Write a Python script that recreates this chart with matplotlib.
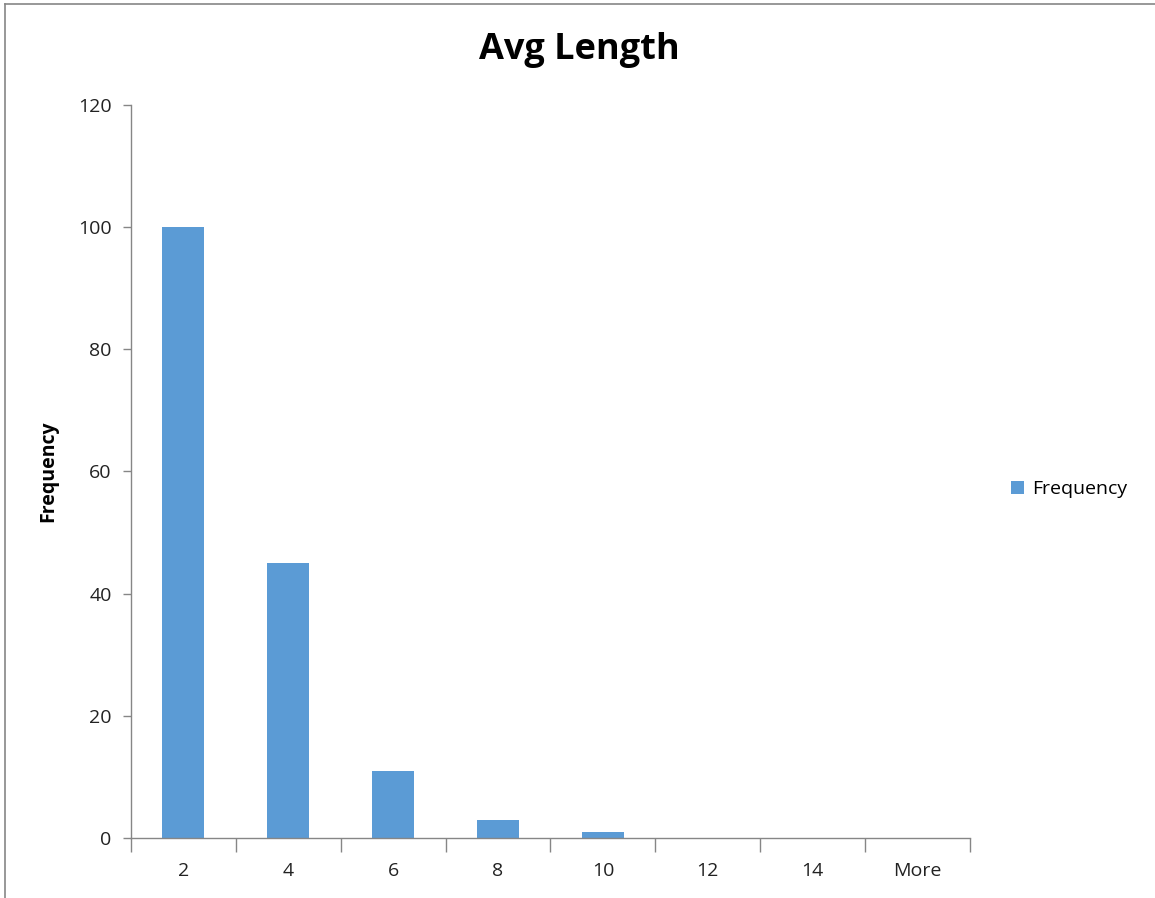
import matplotlib
matplotlib.use("Agg")
import matplotlib.pyplot as plt
import numpy as np
from matplotlib.lines import Line2D

plt.rcParams['font.family'] = ['Open Sans', 'DejaVu Sans']

bins = ['2', '4', '6', '8', '10', '12', '14', 'More']
frequency = [100, 45, 11, 3, 1, 0, 0, 0]

fig = plt.figure(figsize=(11.55, 8.98), dpi=100)
ax = fig.add_axes([0.1134, 0.0668, 0.7264, 0.8163])

x = np.arange(len(bins))
ax.bar(x, frequency, width=0.4, color='#5B9BD5', label='Frequency', zorder=2)

ax.set_xlim(-0.5, len(bins) - 0.5)
ax.set_ylim(0, 120)
ax.set_yticks(np.arange(0, 121, 20))
ax.tick_params(axis='y', labelsize=14, colors='#868686', labelcolor='#222222',
               length=6, width=1, pad=8)

# category labels centred, tick marks on the bin boundaries
ax.set_xticks(x)
ax.set_xticklabels(bins, fontsize=14, color='#222222')
ax.tick_params(axis='x', which='major', length=0, pad=17)
ax.set_xticks(np.arange(-0.5, len(bins)), minor=True)
ax.tick_params(axis='x', which='minor', length=10, width=1, color='#868686')

for side in ['top', 'right']:
    ax.spines[side].set_visible(False)
for side in ['left', 'bottom']:
    ax.spines[side].set_color('#868686')
    ax.spines[side].set_linewidth(1)

ax.set_ylabel('Frequency', fontsize=14, fontweight='bold', labelpad=14)
fig.text(0.502, 0.944, 'Avg Length', ha='center', va='center',
         fontsize=26, fontweight='bold')

ax.legend(loc='center left', bbox_to_anchor=(0.86, 0.455),
          bbox_transform=fig.transFigure, frameon=False, fontsize=14,
          handlelength=0.7, handleheight=0.7, handletextpad=0.4)

# chart-area border along the top and left edges
fig.lines.append(Line2D([0.004, 1.0], [0.9955, 0.9955], transform=fig.transFigure,
                        color='#868686', linewidth=1.2))
fig.lines.append(Line2D([0.0045, 0.0045], [0.0, 0.9955], transform=fig.transFigure,
                        color='#868686', linewidth=1.2))

fig.savefig('out.png', dpi=100)
